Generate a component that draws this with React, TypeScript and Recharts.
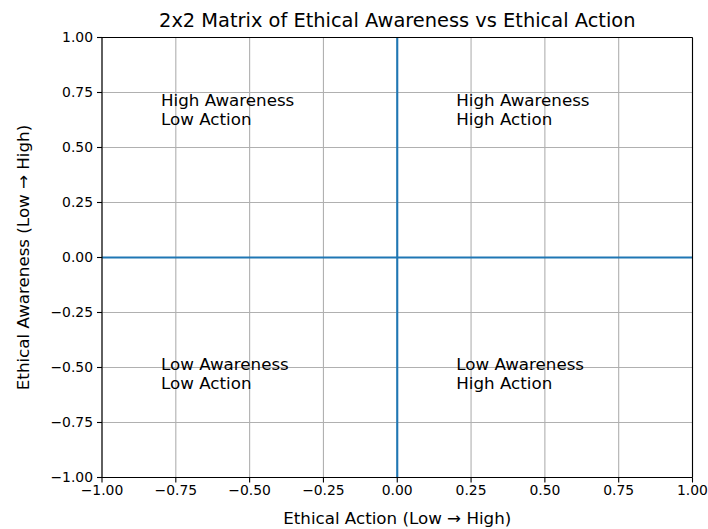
import React from 'react';
import {
  ScatterChart,
  Scatter,
  XAxis,
  YAxis,
  CartesianGrid,
  ReferenceLine,
} from 'recharts';

const ticks = [-1, -0.75, -0.5, -0.25, 0, 0.25, 0.5, 0.75, 1];

// quadrant labels: anchored at the baseline of the second line
const labelX = [-0.8, 0.2, -0.8, 0.2];
const labelY = [0.6, 0.6, -0.6, -0.6];
const labelTop = ['High Awareness', 'High Awareness', 'Low Awareness', 'Low Awareness'];
const labelBottom = ['Low Action', 'High Action', 'Low Action', 'High Action'];

const quadrants = labelX.map((x, i) => ({
  x,
  y: labelY[i],
  top: labelTop[i],
  bottom: labelBottom[i],
}));

const FONT = 'DejaVu Sans, Verdana, sans-serif';

const fmt = (v: number) => v.toFixed(2).replace('-', '\u2212');

const QuadrantText = (props: any) => {
  const { cx, cy, payload } = props;
  return (
    <text x={cx} y={cy - 1} fill="#000" fontSize={16.7} fontFamily={FONT}>
      <tspan x={cx} dy={-18.6}>{payload.top}</tspan>
      <tspan x={cx} dy={18.6}>{payload.bottom}</tspan>
    </text>
  );
};

const App: React.FC = () => {
  return (
    <div style={{ position: 'absolute', left: 0, top: 0, width: 708, height: 529, background: '#fff' }}>
      <div
        style={{
          position: 'absolute',
          left: 102,
          top: 10.5,
          width: 590.5,
          textAlign: 'center',
          fontFamily: FONT,
          fontSize: 19.4,
          lineHeight: 1,
          color: '#000',
          whiteSpace: 'nowrap',
        }}
      >
        2x2 Matrix of Ethical Awareness vs Ethical Action
      </div>
      <ScatterChart
        width={708}
        height={529}
        margin={{ top: 37.5, right: 15.5, bottom: 4.5, left: 0 }}
      >
        <CartesianGrid stroke="#b0b0b0" strokeWidth={1.1} />
        <XAxis
          type="number"
          dataKey="x"
          domain={[-1, 1]}
          ticks={ticks}
          tickFormatter={fmt}
          height={47}
          tickSize={5}
          tickMargin={3}
          stroke="#000"
          axisLine={{ stroke: '#000', strokeWidth: 1.1 }}
          tickLine={{ stroke: '#000', strokeWidth: 1.1 }}
          tick={{ fill: '#000', fontSize: 13.9, fontFamily: FONT }}
          label={{
            value: 'Ethical Action (Low \u2192 High)',
            position: 'insideBottom',
            offset: 1,
            style: { fill: '#000', fontSize: 16.7, fontFamily: FONT },
          }}
        />
        <YAxis
          type="number"
          dataKey="y"
          domain={[-1, 1]}
          ticks={ticks}
          tickFormatter={fmt}
          width={102}
          tickSize={5}
          tickMargin={4}
          axisLine={{ stroke: '#000', strokeWidth: 1.1 }}
          tickLine={{ stroke: '#000', strokeWidth: 1.1 }}
          tick={{ fill: '#000', fontSize: 13.9, fontFamily: FONT }}
          label={{
            value: 'Ethical Awareness (Low \u2192 High)',
            angle: -90,
            position: 'insideLeft',
            offset: 23,
            style: { textAnchor: 'middle', fill: '#000', fontSize: 16.7, fontFamily: FONT },
          }}
        />
        <ReferenceLine x={0} stroke="#1f77b4" strokeWidth={2.1} />
        <ReferenceLine y={0} stroke="#1f77b4" strokeWidth={2.1} />
        {/* top and right spines */}
        <ReferenceLine y={1} stroke="#000" strokeWidth={1.1} />
        <ReferenceLine x={1} stroke="#000" strokeWidth={1.1} />
        <Scatter data={quadrants} shape={QuadrantText} isAnimationActive={false} />
      </ScatterChart>
    </div>
  );
};

export default App;
